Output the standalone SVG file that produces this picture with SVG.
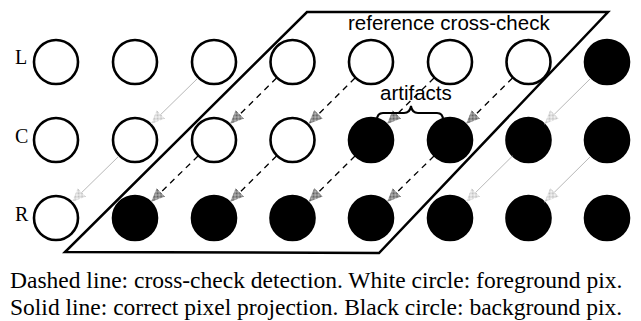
<svg xmlns="http://www.w3.org/2000/svg" width="641" height="321" viewBox="0 0 641 321">
<style>
.wc{fill:#fff;stroke:#000;stroke-width:2.6}
.bc{fill:#000;stroke:#000;stroke-width:2.6}
.lbl{font-family:"Liberation Serif","Times New Roman",serif;font-size:20px;fill:#000}
.sans{font-family:"Liberation Sans",Arial,sans-serif;font-size:20.5px;fill:#000}
.cap{font-family:"Liberation Serif","Times New Roman",serif;font-size:23.5px;fill:#000}
.dash{stroke:#000;stroke-width:1.3;stroke-dasharray:6 5;fill:none;marker-end:url(#ahd)}
.solid{stroke:#b8b8b8;stroke-width:1;fill:none;marker-end:url(#ahs)}
</style>
<defs>
<pattern id="hd" width="2" height="2" patternUnits="userSpaceOnUse">
<rect width="2" height="2" fill="#c8c8c8"/><rect width="1" height="1" fill="#555"/><rect x="1" y="1" width="1" height="1" fill="#555"/>
</pattern>
<pattern id="hs" width="2" height="2" patternUnits="userSpaceOnUse">
<rect width="2" height="2" fill="#fff"/><rect width="1" height="1" fill="#bbb"/><rect x="1" y="1" width="1" height="1" fill="#bbb"/>
</pattern>
<marker id="ahd" viewBox="0 0 14 12" refX="14" refY="6" markerWidth="14" markerHeight="12" markerUnits="userSpaceOnUse" orient="auto">
<path d="M0,0 L14,6 L0,12 z" fill="url(#hd)"/>
</marker>
<marker id="ahs" viewBox="0 0 14 12" refX="14" refY="6" markerWidth="14" markerHeight="12" markerUnits="userSpaceOnUse" orient="auto">
<path d="M0,0 L14,6 L0,12 z" fill="url(#hs)"/>
</marker>
</defs>

<g id="region">
<polygon points="307,12 608,12 379,253 65,252" fill="none" stroke="#000" stroke-width="2.5" stroke-linejoin="miter"/>
<text class="sans" x="348" y="30">reference cross-check</text>
</g>

<g id="row-labels">
<text class="lbl" x="15" y="64">L</text>
<text class="lbl" x="15" y="143">C</text>
<text class="lbl" x="15" y="221">R</text>
</g>

<g id="row-L">
<circle id="L0" class="wc" cx="56" cy="62" r="22"/>
<circle id="L1" class="wc" cx="135" cy="62" r="22"/>
<circle id="L2" class="wc" cx="214" cy="62" r="22"/>
<circle id="L3" class="wc" cx="292.5" cy="62" r="22"/>
<circle id="L4" class="wc" cx="371" cy="62" r="22"/>
<circle id="L5" class="wc" cx="450" cy="62" r="22"/>
<circle id="L6" class="wc" cx="528.5" cy="62" r="22"/>
<circle id="L7" class="bc" cx="607" cy="62" r="22"/>
</g>
<g id="row-C">
<circle id="C0" class="wc" cx="56" cy="140" r="22"/>
<circle id="C1" class="wc" cx="135" cy="140" r="22"/>
<circle id="C2" class="wc" cx="214" cy="140" r="22"/>
<circle id="C3" class="wc" cx="292.5" cy="140" r="22"/>
<circle id="C4" class="bc" cx="371" cy="140" r="22"/>
<circle id="C5" class="bc" cx="450" cy="140" r="22"/>
<circle id="C6" class="bc" cx="528.5" cy="140" r="22"/>
<circle id="C7" class="bc" cx="607" cy="140" r="22"/>
</g>
<g id="row-R">
<circle id="R0" class="wc" cx="56" cy="218" r="22"/>
<circle id="R1" class="bc" cx="135" cy="218" r="22"/>
<circle id="R2" class="bc" cx="214" cy="218" r="22"/>
<circle id="R3" class="bc" cx="292.5" cy="218" r="22"/>
<circle id="R4" class="bc" cx="371" cy="218" r="22"/>
<circle id="R5" class="bc" cx="450" cy="218" r="22"/>
<circle id="R6" class="bc" cx="528.5" cy="218" r="22"/>
<circle id="R7" class="bc" cx="607" cy="218" r="22"/>
</g>

<g id="connectors">
<line class="solid" x1="198" y1="78" x2="151" y2="124"/>
<line class="dash" x1="276.5" y1="78" x2="230" y2="124"/>
<line class="dash" x1="355" y1="78" x2="308.5" y2="124"/>
<line class="dash" x1="434" y1="78" x2="387" y2="124"/>
<line class="dash" x1="512.5" y1="78" x2="466" y2="124"/>
<line class="solid" x1="591" y1="78" x2="544.5" y2="124"/>
<line class="solid" x1="119" y1="156" x2="72" y2="202"/>
<line class="dash" x1="198" y1="156" x2="151" y2="202"/>
<line class="dash" x1="276.5" y1="156" x2="230" y2="202"/>
<line class="dash" x1="355" y1="156" x2="308.5" y2="202"/>
<line class="dash" x1="434" y1="156" x2="387" y2="202"/>
<line class="solid" x1="512.5" y1="156" x2="466" y2="202"/>
<line class="solid" x1="591" y1="156" x2="544.5" y2="202"/>
</g>

<g id="artifacts">
<text class="sans" x="380" y="100">artifacts</text>
<path d="M377,120 Q377,113 383,113 L404,113 Q410,113 411,106 Q412,113 418,113 L437,113 Q443,113 443,120" fill="none" stroke="#000" stroke-width="2"/>
</g>

<g id="caption">
<text class="cap" x="10" y="288">Dashed line: cross-check detection. White circle: foreground pix.</text>
<text class="cap" x="10" y="315">Solid line: correct pixel projection. Black circle: background pix.</text>
</g>
</svg>
